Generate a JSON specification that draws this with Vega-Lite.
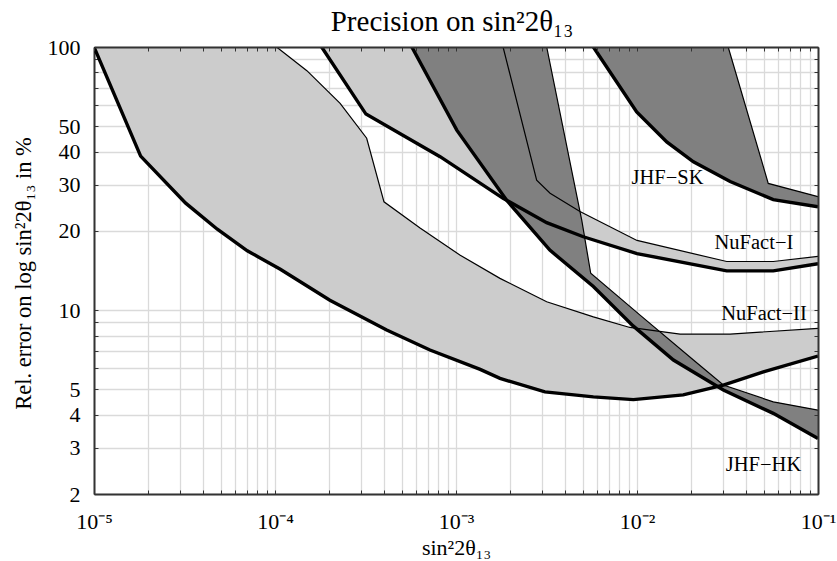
{
  "$schema": "https://vega.github.io/schema/vega-lite/v6.json",
  "width": 724,
  "height": 447,
  "autosize": {"type": "none"},
  "padding": {"left": 94, "top": 47, "right": 19, "bottom": 67},
  "background": "white",
  "config": {"view": {"stroke": null}},
  "title": {
    "text": "Precision on sin²2θ₁₃",
    "font": "Liberation Serif",
    "fontSize": 29,
    "fontWeight": "normal",
    "color": "#000",
    "anchor": "middle",
    "offset": 8,
    "dy": 9,
    "dx": -4
  },
  "datasets": {
    "bands": [
      {"b": "N2", "e": "l", "o": 1, "x": 1e-5, "y": 100},
      {"b": "N2", "e": "l", "o": 2, "x": 1.81e-5, "y": 38.5},
      {"b": "N2", "e": "l", "o": 3, "x": 3.21e-5, "y": 25.5},
      {"b": "N2", "e": "l", "o": 4, "x": 4.8e-5, "y": 20.3},
      {"b": "N2", "e": "l", "o": 5, "x": 7.03e-5, "y": 16.8},
      {"b": "N2", "e": "l", "o": 6, "x": 1.07e-4, "y": 14.3},
      {"b": "N2", "e": "l", "o": 7, "x": 2.01e-4, "y": 10.9},
      {"b": "N2", "e": "l", "o": 8, "x": 4.14e-4, "y": 8.4},
      {"b": "N2", "e": "l", "o": 9, "x": 7.18e-4, "y": 7.05},
      {"b": "N2", "e": "l", "o": 10, "x": 1.36e-3, "y": 5.95},
      {"b": "N2", "e": "l", "o": 11, "x": 1.75e-3, "y": 5.5},
      {"b": "N2", "e": "l", "o": 12, "x": 3.1e-3, "y": 4.89},
      {"b": "N2", "e": "l", "o": 13, "x": 5.74e-3, "y": 4.68},
      {"b": "N2", "e": "l", "o": 14, "x": 9.55e-3, "y": 4.57},
      {"b": "N2", "e": "l", "o": 15, "x": 0.018, "y": 4.76},
      {"b": "N2", "e": "l", "o": 16, "x": 0.03, "y": 5.19},
      {"b": "N2", "e": "l", "o": 17, "x": 0.0499, "y": 5.82},
      {"b": "N2", "e": "l", "o": 18, "x": 0.1, "y": 6.69},
      {"b": "N2", "e": "u", "o": 19, "x": 0.1, "y": 8.52},
      {"b": "N2", "e": "u", "o": 20, "x": 0.0327, "y": 8.11},
      {"b": "N2", "e": "u", "o": 21, "x": 0.0173, "y": 8.11},
      {"b": "N2", "e": "u", "o": 22, "x": 9.14e-3, "y": 8.59},
      {"b": "N2", "e": "u", "o": 23, "x": 5.74e-3, "y": 9.43},
      {"b": "N2", "e": "u", "o": 24, "x": 3.17e-3, "y": 10.76},
      {"b": "N2", "e": "u", "o": 25, "x": 1.75e-3, "y": 13.2},
      {"b": "N2", "e": "u", "o": 26, "x": 1.05e-3, "y": 16.2},
      {"b": "N2", "e": "u", "o": 27, "x": 6.33e-4, "y": 20.5},
      {"b": "N2", "e": "u", "o": 28, "x": 4.0e-4, "y": 25.8},
      {"b": "N2", "e": "u", "o": 29, "x": 3.21e-4, "y": 45},
      {"b": "N2", "e": "u", "o": 30, "x": 2.29e-4, "y": 61.1},
      {"b": "N2", "e": "u", "o": 31, "x": 1.5e-4, "y": 81.3},
      {"b": "N2", "e": "u", "o": 32, "x": 1.02e-4, "y": 100},

      {"b": "N1", "e": "l", "o": 1, "x": 1.81e-4, "y": 100},
      {"b": "N1", "e": "l", "o": 2, "x": 3.18e-4, "y": 55.6},
      {"b": "N1", "e": "l", "o": 3, "x": 8.17e-4, "y": 38.3},
      {"b": "N1", "e": "l", "o": 4, "x": 1.82e-3, "y": 26.6},
      {"b": "N1", "e": "l", "o": 5, "x": 3.17e-3, "y": 21.5},
      {"b": "N1", "e": "l", "o": 6, "x": 5.05e-3, "y": 19.0},
      {"b": "N1", "e": "l", "o": 7, "x": 0.01, "y": 16.4},
      {"b": "N1", "e": "l", "o": 8, "x": 0.0313, "y": 14.1},
      {"b": "N1", "e": "l", "o": 9, "x": 0.0566, "y": 14.1},
      {"b": "N1", "e": "l", "o": 10, "x": 0.1, "y": 15.0},
      {"b": "N1", "e": "u", "o": 11, "x": 0.1, "y": 16.0},
      {"b": "N1", "e": "u", "o": 12, "x": 0.0566, "y": 15.3},
      {"b": "N1", "e": "u", "o": 13, "x": 0.0313, "y": 15.3},
      {"b": "N1", "e": "u", "o": 14, "x": 0.01, "y": 18.4},
      {"b": "N1", "e": "u", "o": 15, "x": 4.84e-3, "y": 23.7},
      {"b": "N1", "e": "u", "o": 16, "x": 3.31e-3, "y": 27.8},
      {"b": "N1", "e": "u", "o": 17, "x": 2.79e-3, "y": 31.2},
      {"b": "N1", "e": "u", "o": 18, "x": 1.82e-3, "y": 100},

      {"b": "HK", "e": "l", "o": 1, "x": 5.7e-4, "y": 100},
      {"b": "HK", "e": "l", "o": 2, "x": 1.01e-3, "y": 48.3},
      {"b": "HK", "e": "l", "o": 3, "x": 1.9e-3, "y": 26.2},
      {"b": "HK", "e": "l", "o": 4, "x": 3.3e-3, "y": 16.9},
      {"b": "HK", "e": "l", "o": 5, "x": 5.74e-3, "y": 12.3},
      {"b": "HK", "e": "l", "o": 6, "x": 9.55e-3, "y": 8.69},
      {"b": "HK", "e": "l", "o": 7, "x": 0.0159, "y": 6.46},
      {"b": "HK", "e": "l", "o": 8, "x": 0.03, "y": 4.97},
      {"b": "HK", "e": "l", "o": 9, "x": 0.0566, "y": 4.05},
      {"b": "HK", "e": "l", "o": 10, "x": 0.1, "y": 3.25},
      {"b": "HK", "e": "u", "o": 11, "x": 0.1, "y": 4.17},
      {"b": "HK", "e": "u", "o": 12, "x": 0.0566, "y": 4.48},
      {"b": "HK", "e": "u", "o": 13, "x": 0.03, "y": 5.19},
      {"b": "HK", "e": "u", "o": 14, "x": 0.0205, "y": 6.46},
      {"b": "HK", "e": "u", "o": 15, "x": 0.0104, "y": 9.57},
      {"b": "HK", "e": "u", "o": 16, "x": 5.55e-3, "y": 13.8},
      {"b": "HK", "e": "u", "o": 17, "x": 4.95e-3, "y": 22.0},
      {"b": "HK", "e": "u", "o": 18, "x": 3.17e-3, "y": 100},

      {"b": "SK", "e": "l", "o": 1, "x": 5.74e-3, "y": 100},
      {"b": "SK", "e": "l", "o": 2, "x": 9.96e-3, "y": 56.7},
      {"b": "SK", "e": "l", "o": 3, "x": 0.0146, "y": 43.6},
      {"b": "SK", "e": "l", "o": 4, "x": 0.0205, "y": 36.6},
      {"b": "SK", "e": "l", "o": 5, "x": 0.0327, "y": 30.8},
      {"b": "SK", "e": "l", "o": 6, "x": 0.0566, "y": 26.3},
      {"b": "SK", "e": "l", "o": 7, "x": 0.1, "y": 24.7},
      {"b": "SK", "e": "u", "o": 8, "x": 0.1, "y": 27.0},
      {"b": "SK", "e": "u", "o": 9, "x": 0.0531, "y": 30.3},
      {"b": "SK", "e": "u", "o": 10, "x": 0.0319, "y": 100}
    ],
    "labels": [
      {"t": "JHF−SK", "x": 0.01474, "y": 31.8},
      {"t": "NuFact−I", "x": 0.04426, "y": 17.98},
      {"t": "NuFact−II", "x": 0.0503, "y": 9.66},
      {"t": "JHF−HK", "x": 0.05, "y": 2.57}
    ]
  },
  "resolve": {"axis": {"x": "independent", "y": "independent"}},
  "layer": [
    {
      "data": {"name": "bands"},
      "transform": [{"filter": "datum.b == 'N2' || datum.b == 'N1'"}],
      "mark": {"type": "line", "fill": "#cccccc", "stroke": null, "strokeWidth": 0, "clip": true},
      "encoding": {
        "x": {
          "field": "x", "type": "quantitative",
          "scale": {"type": "log", "domain": [1e-5, 0.1], "nice": false},
          "axis": {
            "orient": "bottom",
            "zindex": 0,
            "values": [1e-5, 2e-5, 3e-5, 4e-5, 5e-5, 6e-5, 7e-5, 8e-5, 9e-5, 1e-4, 2e-4, 3e-4, 4e-4, 5e-4, 6e-4, 7e-4, 8e-4, 9e-4, 1e-3, 2e-3, 3e-3, 4e-3, 5e-3, 6e-3, 7e-3, 8e-3, 9e-3, 0.01, 0.02, 0.03, 0.04, 0.05, 0.06, 0.07, 0.08, 0.09, 0.1],
            "grid": true, "gridColor": "#dadada", "gridWidth": 1.3,
            "ticks": true, "tickSize": -4, "tickColor": "#333", "tickWidth": 1,
            "domain": true, "domainColor": "#333", "domainWidth": 2,
            "labelExpr": "abs(datum.value-1e-5)<1e-9 ? '10⁻⁵' : abs(datum.value-1e-4)<1e-8 ? '10⁻⁴' : abs(datum.value-1e-3)<1e-7 ? '10⁻³' : abs(datum.value-1e-2)<1e-6 ? '10⁻²' : abs(datum.value-0.1)<1e-5 ? '10⁻¹' : ''",
            "labelFont": "Liberation Serif", "labelFontSize": 22, "labelColor": "#000",
            "labelPadding": 21, "labelOverlap": false, "labelFlush": false, "labelBound": false,
            "title": "sin²2θ₁₃",
            "titleFont": "Liberation Serif", "titleFontSize": 22, "titleFontWeight": "normal", "titleColor": "#000",
            "titleX": 362, "titleY": 60, "titleBaseline": "alphabetic", "titleAlign": "center", "titleAnchor": null
          }
        },
        "y": {
          "field": "y", "type": "quantitative",
          "scale": {"type": "log", "domain": [2, 100], "nice": false},
          "axis": {
            "orient": "left",
            "zindex": 0,
            "values": [2, 3, 4, 5, 6, 7, 8, 9, 10, 20, 30, 40, 50, 60, 70, 80, 90, 100],
            "grid": true, "gridColor": "#dadada", "gridWidth": 1.3,
            "ticks": true, "tickSize": -4, "tickColor": "#333", "tickWidth": 1,
            "domain": true, "domainColor": "#333", "domainWidth": 2,
            "labelExpr": "indexof([2,3,4,5,10,20,30,40,50,100], datum.value) >= 0 ? '' + datum.value : ''",
            "labelFont": "Liberation Serif", "labelFontSize": 22, "labelColor": "#000",
            "labelPadding": 18, "labelOverlap": false, "labelFlush": false, "labelBound": false,
            "title": "Rel. error on log sin²2θ₁₃ in %",
            "titleFont": "Liberation Serif", "titleFontSize": 22.5, "titleFontWeight": "normal", "titleColor": "#000",
            "titleAngle": -90, "titleX": -64, "titleY": 226, "titleBaseline": "alphabetic", "titleAlign": "center", "titleAnchor": null
          }
        },
        "detail": {"field": "b"},
        "order": {"field": "o", "type": "quantitative"}
      }
    },
    {
      "data": {"name": "bands"},
      "transform": [{"filter": "datum.b == 'HK' || datum.b == 'SK'"}],
      "mark": {"type": "line", "fill": "#808080", "stroke": null, "strokeWidth": 0, "clip": true},
      "encoding": {
        "x": {"field": "x", "type": "quantitative", "scale": {"type": "log", "domain": [1e-5, 0.1], "nice": false}, "axis": null},
        "y": {"field": "y", "type": "quantitative", "scale": {"type": "log", "domain": [2, 100], "nice": false}, "axis": null},
        "detail": {"field": "b"},
        "order": {"field": "o", "type": "quantitative"}
      }
    },
    {
      "data": {"name": "bands"},
      "transform": [{"filter": "datum.e == 'u'"}],
      "mark": {"type": "line", "color": "#000", "strokeWidth": 1.2, "clip": true},
      "encoding": {
        "x": {"field": "x", "type": "quantitative", "scale": {"type": "log", "domain": [1e-5, 0.1], "nice": false}, "axis": null},
        "y": {"field": "y", "type": "quantitative", "scale": {"type": "log", "domain": [2, 100], "nice": false}, "axis": null},
        "detail": {"field": "b"},
        "order": {"field": "o", "type": "quantitative"}
      }
    },
    {
      "data": {"name": "bands"},
      "transform": [{"filter": "datum.e == 'l'"}],
      "mark": {"type": "line", "color": "#000", "strokeWidth": 3.4, "clip": true},
      "encoding": {
        "x": {"field": "x", "type": "quantitative", "scale": {"type": "log", "domain": [1e-5, 0.1], "nice": false}, "axis": null},
        "y": {"field": "y", "type": "quantitative", "scale": {"type": "log", "domain": [2, 100], "nice": false}, "axis": null},
        "detail": {"field": "b"},
        "order": {"field": "o", "type": "quantitative"}
      }
    },
    {
      "data": {"name": "labels"},
      "mark": {"type": "text", "font": "Liberation Serif", "fontSize": 20.5, "color": "#000", "align": "center", "baseline": "middle"},
      "encoding": {
        "x": {
          "field": "x", "type": "quantitative",
          "scale": {"type": "log", "domain": [1e-5, 0.1], "nice": false},
          "axis": {
            "orient": "top", "zindex": 1,
            "values": [1e-5, 2e-5, 3e-5, 4e-5, 5e-5, 6e-5, 7e-5, 8e-5, 9e-5, 1e-4, 2e-4, 3e-4, 4e-4, 5e-4, 6e-4, 7e-4, 8e-4, 9e-4, 1e-3, 2e-3, 3e-3, 4e-3, 5e-3, 6e-3, 7e-3, 8e-3, 9e-3, 0.01, 0.02, 0.03, 0.04, 0.05, 0.06, 0.07, 0.08, 0.09, 0.1],
            "grid": false, "labels": false, "title": null,
            "ticks": true, "tickSize": -4, "tickColor": "#333", "tickWidth": 1,
            "domain": true, "domainColor": "#333", "domainWidth": 2
          }
        },
        "y": {
          "field": "y", "type": "quantitative",
          "scale": {"type": "log", "domain": [2, 100], "nice": false},
          "axis": {
            "orient": "right", "zindex": 1,
            "values": [2, 3, 4, 5, 6, 7, 8, 9, 10, 20, 30, 40, 50, 60, 70, 80, 90, 100],
            "grid": false, "labels": false, "title": null,
            "ticks": true, "tickSize": -4, "tickColor": "#333", "tickWidth": 1,
            "domain": true, "domainColor": "#333", "domainWidth": 2
          }
        },
        "text": {"field": "t"}
      }
    }
  ]
}
